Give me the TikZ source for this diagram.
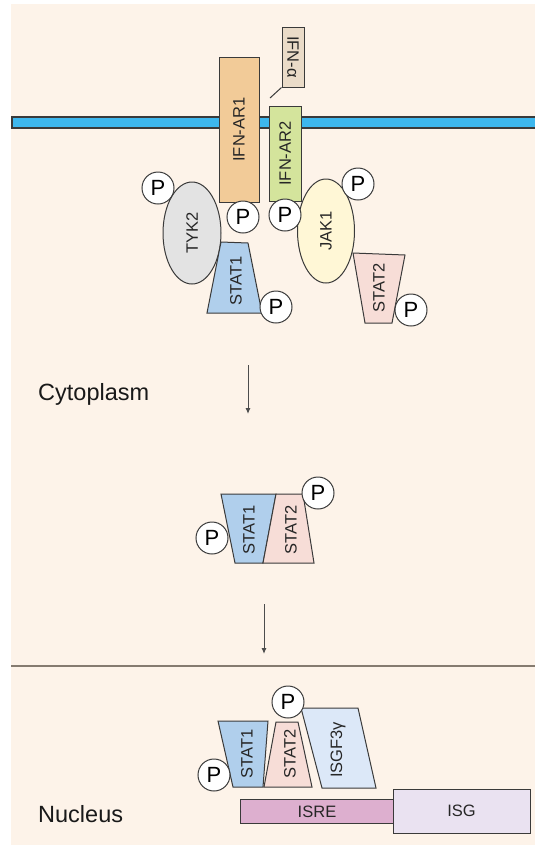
\documentclass[tikz,border=0pt]{standalone}
\usepackage{fontspec}
\setmainfont{Liberation Sans}
\usetikzlibrary{arrows.meta,shapes.geometric}
\definecolor{bg}{HTML}{FDF3E9}
\definecolor{memb}{HTML}{3DB7EE}
\definecolor{arone}{HTML}{F2CB98}
\definecolor{artwo}{HTML}{D4E49C}
\definecolor{ifna}{HTML}{EADBC8}
\definecolor{tyk}{HTML}{E3E3E3}
\definecolor{jak}{HTML}{FFF7D6}
\definecolor{sone}{HTML}{B0CFEC}
\definecolor{stwo}{HTML}{F7DDD7}
\definecolor{isgf}{HTML}{DCE8F8}
\definecolor{isre}{HTML}{DDAFCF}
\definecolor{isg}{HTML}{EAE2F1}
\definecolor{edge}{HTML}{3A3A3A}
\definecolor{nucl}{HTML}{857B70}
\begin{document}
\begin{tikzpicture}[x=1pt,y=-1pt,
 shp/.style={draw=edge, line width=1pt},
 lbl/.style={font=\fontsize{16.5}{18}\selectfont, inner sep=0pt, text=black!85},
 boxn/.style={shp, lbl, rectangle, inner sep=0pt},
 big/.style={font=\fontsize{23.5}{26}\selectfont, inner sep=0pt, anchor=base west, text=black!90},
 pc/.style={circle, draw=edge, line width=1pt, fill=white, minimum size=32pt, inner sep=0pt, font=\fontsize{22}{24}\selectfont},
 arr/.style={-{Latex[length=6pt,width=5pt]}, line width=1pt, draw=black!70}]
\useasboundingbox (0,0) rectangle (535,847);
\fill[white] (0,0) rectangle (535,847);
\fill[bg] (11,4) rectangle (535,845);

% membrane
\draw[shp, fill=memb, line width=1.6pt] (12,117) rectangle (536,128);

% receptors
\node[boxn, fill=arone, rotate=90, minimum width=145pt, minimum height=40pt] (ar1) at (239,129.5) {IFN-AR1};
\node[boxn, fill=artwo, rotate=90, minimum width=95pt, minimum height=32pt] (ar2) at (285,153.5) {IFN-AR2};
\node[boxn, fill=ifna, rotate=-90, minimum width=60pt, minimum height=22pt] (ifn) at (293,57) {IFN-α};
\coordinate (ifntip) at (270,98);
\draw[shp] (ifn.south east) -- (ifntip);

% kinases and STATs (top)
\node[shp, fill=tyk, ellipse, minimum width=58pt, minimum height=102pt, inner sep=0pt] (tyk2) at (192,233) {};
\node[lbl, rotate=90] (tyk2t) at (tyk2.center) {TYK2};
\draw[shp, fill=sone] (221,242) -- (248,243) -- (262,313) -- (207,313) -- cycle;
\node[lbl, rotate=90] (s1a) at (236,281) {STAT1};
\draw[shp, fill=stwo] (353,253) -- (405,255) -- (392,323) -- (365,323) -- cycle;
\node[lbl, rotate=90] (s2a) at (379,288) {STAT2};
\node[shp, fill=jak, ellipse, minimum width=57pt, minimum height=104pt, inner sep=0pt] (jak1) at (326,231) {};
\node[lbl, rotate=90] (jak1t) at (jak1.center) {JAK1};

\node[pc] (p1) at (158,188) {P};
\node[pc] (p2) at (243,217) {P};
\node[pc] (p3) at (285,215) {P};
\node[pc] (p4) at (358,184) {P};
\node[pc] (p5) at (276,307) {P};
\node[pc] (p6) at (411,310) {P};

\node[big] (cyto) at (38,400) {Cytoplasm};
\coordinate (a1s) at (248,365);
\coordinate (a1e) at (248,414);
\draw[arr] (a1s) -- (a1e);

% dimer in cytoplasm
\draw[shp, fill=sone] (221,494) -- (276,494) -- (263,563) -- (235,563) -- cycle;
\draw[shp, fill=stwo] (276,494) -- (303,494) -- (314,563) -- (263,563) -- cycle;
\node[lbl, rotate=90] (s1b) at (249,530) {STAT1};
\node[lbl, rotate=90] (s2b) at (291,530) {STAT2};
\node[pc] (p7) at (212,538) {P};
\node[pc] (p8) at (318,493) {P};

\coordinate (a2s) at (264,604);
\coordinate (a2e) at (264,654);
\draw[arr] (a2s) -- (a2e);

% nuclear envelope
\coordinate (nl) at (11,666);
\coordinate (nr) at (535,666);
\draw[nucl, line width=2.2pt] (nl) -- (nr);

% nucleus
\draw[shp, fill=sone] (218,721) -- (268,721) -- (263,787) -- (233,787) -- cycle;
\node[lbl, rotate=90] (s1c) at (247,754) {STAT1};
\draw[shp, fill=stwo] (276,722) -- (298,722) -- (312,787) -- (264,787) -- cycle;
\node[lbl, rotate=90] (s2c) at (290,754) {STAT2};
\draw[shp, fill=isgf] (301,708) -- (358,708) -- (376,788) -- (322,788) -- cycle;
\node[lbl, rotate=90] (isgft) at (338,750) {ISGF3γ};
\node[pc] (p9) at (288,702) {P};
\node[pc] (p10) at (214,775) {P};

\node[boxn, fill=isre, minimum width=160pt, minimum height=24pt] (isrebox) at (320,811) {};
\node[lbl] (isret) at (317,812) {ISRE};
\node[boxn, fill=isg, minimum width=137pt, minimum height=44pt] (isgbox) at (461.5,811) {ISG};

\node[big] (nuc) at (38,822) {Nucleus};
\end{tikzpicture}
\end{document}
